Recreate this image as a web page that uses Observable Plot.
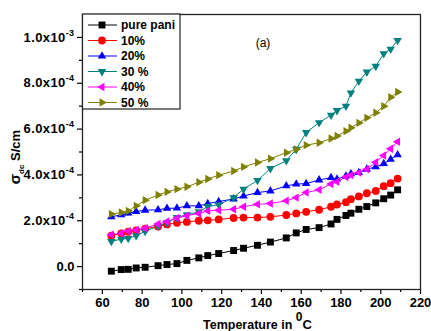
<!DOCTYPE html>
<html><head><meta charset="utf-8">
<script src="https://cdn.jsdelivr.net/npm/d3@7"></script>
<script src="https://cdn.jsdelivr.net/npm/@observablehq/plot@0.6"></script>
<style>html,body{margin:0;padding:0;background:#fff}</style>
</head><body><div id="chart"></div>
<script>
// Temperature (°C) and conductivity values in units of 1e-4 S/cm
const temps = [64.5, 69.5, 73, 77, 81.5, 88, 92.5, 97.5, 102.5, 108.5, 113, 118.5, 126, 131, 138, 144.5, 152.5, 157.5, 162.5, 169, 175, 178, 182.5, 185, 189, 193, 197.5, 201.5, 205, 208.5];
const pani  = [-0.20, -0.13, -0.12, -0.06, -0.03, 0.04, 0.09, 0.13, 0.27, 0.38, 0.48, 0.57, 0.70, 0.80, 0.93, 1.07, 1.25, 1.47, 1.62, 1.70, 1.86, 2.06, 2.23, 2.33, 2.50, 2.62, 2.78, 2.96, 3.12, 3.35];
const pct10 = [1.35, 1.45, 1.52, 1.58, 1.65, 1.75, 1.84, 1.91, 1.95, 2.00, 2.02, 2.06, 2.12, 2.14, 2.14, 2.17, 2.25, 2.32, 2.39, 2.48, 2.61, 2.71, 2.81, 2.94, 3.06, 3.20, 3.30, 3.51, 3.64, 3.84];
const pct20 = [2.17, 2.26, 2.33, 2.40, 2.46, 2.48, 2.54, 2.55, 2.65, 2.65, 2.75, 2.84, 2.95, 3.08, 3.23, 3.30, 3.52, 3.60, 3.62, 3.78, 3.88, 3.82, 3.95, 4.05, 4.10, 4.25, 4.35, 4.49, 4.68, 4.88];
const pct30 = [1.10, 1.20, 1.23, 1.35, 1.54, 1.77, 1.91, 2.14, 2.26, 2.39, 2.62, 2.70, 3.01, 3.38, 3.76, 4.28, 4.62, 5.12, 5.85, 6.28, 6.61, 6.81, 7.00, 7.58, 8.09, 8.49, 8.74, 9.29, 9.49, 9.87];
const pct40 = [1.39, 1.45, 1.54, 1.60, 1.67, 1.86, 1.97, 2.12, 2.22, 2.32, 2.43, 2.46, 2.50, 2.61, 2.72, 2.75, 2.87, 3.01, 3.23, 3.35, 3.60, 3.70, 3.91, 3.99, 4.10, 4.25, 4.55, 4.85, 5.14, 5.45];
const pct50 = [2.29, 2.36, 2.43, 2.65, 2.90, 3.12, 3.26, 3.38, 3.48, 3.68, 3.82, 3.99, 4.17, 4.35, 4.54, 4.71, 4.97, 5.12, 5.30, 5.40, 5.59, 5.70, 5.91, 6.06, 6.27, 6.49, 6.71, 7.00, 7.39, 7.62];
const seriesNames = ["pure pani", "10%", "20%", "30 %", "40%", "50 %"];
const seriesValues = [pani, pct10, pct20, pct30, pct40, pct50];
const xMajor = [60, 80, 100, 120, 140, 160, 180, 200, 220];
const xMinor = [50, 70, 90, 110, 130, 150, 170, 190, 210];
const yMajor = [0, 2, 4, 6, 8, 10];
const yMinor = [-1, 1, 3, 5, 7, 9];
const xTitle = "Temperature in ";
const panelLabel = "(a)";

// styles
const FONT = "'Liberation Sans', Arial, sans-serif";
const colors = ["#000000", "#ff0000", "#0000ff", "#008080", "#ff00ff", "#808000"];
function tri(angleDeg) {
  return {
    draw(ctx, size) {
      const R = Math.sqrt(size / Math.PI) * 1.25;
      for (let k = 0; k < 3; k++) {
        const a = (angleDeg + k * 120) * Math.PI / 180;
        const px = R * Math.sin(a), py = -R * Math.cos(a);
        if (k === 0) ctx.moveTo(px, py); else ctx.lineTo(px, py);
      }
      ctx.closePath();
    }
  };
}
const symbols = [d3.symbolSquare, d3.symbolCircle, tri(0), tri(180), tri(-90), tri(90)];

const rows = [];
seriesNames.forEach((name, i) => seriesValues[i].forEach((v, j) => rows.push({series: name, t: temps[j], v})));

const fmtY = d => d === 0 ? "0.0" : d === 10 ? "1.0x10^-3" : d.toFixed(1) + "x10^-4";

const plot = Plot.plot({
  width: 431, height: 331,
  marginLeft: 82, marginRight: 11, marginTop: 14, marginBottom: 42,
  style: {fontFamily: FONT, fontSize: "13px", fontWeight: "bold", color: "#000", background: "#fff"},
  x: {domain: [50, 220]},
  y: {domain: [-1, 11]},
  color: {domain: seriesNames, range: colors},
  symbol: {domain: seriesNames, range: symbols},
  marks: [
    Plot.axisX(xMajor, {tickSize: 5, tickPadding: 3, label: null, tickFormat: d => String(d), strokeWidth: 1.2}),
    Plot.axisX(xMinor, {tickSize: 3, label: null, tickFormat: () => "", strokeWidth: 1.2}),
    Plot.axisY(yMajor, {tickSize: 5, tickPadding: 3, label: null, tickFormat: fmtY, strokeWidth: 1.2}),
    Plot.axisY(yMinor, {tickSize: 3, label: null, tickFormat: () => "", strokeWidth: 1.2}),
    Plot.line(rows, {x: "t", y: "v", z: "series", stroke: "series", strokeWidth: 1}),
    Plot.dot(rows, {x: "t", y: "v", symbol: "series", fill: "series", r: 3.9, stroke: "none"}),
    Plot.frame({stroke: "#222", strokeWidth: 1.3})
  ]
});
document.getElementById("chart").appendChild(plot);

const svg = d3.select(plot);
// superscripts in y tick labels
svg.selectAll('g[aria-label="y-axis tick label"] text').each(function() {
  const s = d3.select(this);
  const txt = s.text();
  if (txt.includes("^")) {
    const [base, sup] = txt.split("^");
    s.text(base).style("letter-spacing", "0.4px");
    s.append("tspan").attr("dy", -6).attr("font-size", 9).text(sup);
  }
});

// y title
const yt = svg.append("text")
  .attr("transform", "translate(20,157) rotate(-90)")
  .attr("text-anchor", "middle")
  .attr("font-family", FONT)
  .attr("font-weight", "bold").attr("font-size", 13);
yt.append("tspan").attr("font-size", 15).text("σ");
yt.append("tspan").attr("font-size", 8).attr("dy", 4).text("dc");
yt.append("tspan").attr("dy", -4).text(" S/cm");

// x title
const xt = svg.append("text")
  .attr("x", 203).attr("y", 329)
  .attr("text-anchor", "start")
  .attr("font-family", FONT)
  .attr("font-weight", "bold").attr("font-size", 12.5);
xt.append("tspan").text(xTitle);
xt.append("tspan").attr("font-size", 12).attr("dy", -8).text("0");
xt.append("tspan").attr("dy", 8).attr("font-size", 13).text("C");

// panel label
svg.append("text").attr("x", 263).attr("y", 47).attr("text-anchor", "middle")
  .attr("font-family", FONT)
  .attr("font-weight", "normal").attr("font-size", 12).text(panelLabel);

// legend
const lg = svg.append("g");
lg.append("rect").attr("x", 82.5).attr("y", 14).attr("width", 97.5).attr("height", 95)
  .attr("fill", "#fff").attr("stroke", "#222").attr("stroke-width", 1.2);
seriesNames.forEach((name, i) => {
  const yy = 25 + i * 15.5;
  lg.append("line").attr("x1", 88).attr("x2", 117).attr("y1", yy).attr("y2", yy)
    .attr("stroke", colors[i]).attr("stroke-width", 1);
  lg.append("path").attr("transform", `translate(102,${yy})`)
    .attr("d", d3.symbol().type(symbols[i]).size(Math.PI * 3.9 * 3.9)())
    .attr("fill", colors[i]);
  lg.append("text").attr("x", 121).attr("y", yy).attr("dy", "0.35em")
    .attr("text-anchor", "start")
    .attr("font-family", FONT)
    .attr("font-weight", "bold").attr("font-size", 12).text(name);
});
</script>
</body></html>
